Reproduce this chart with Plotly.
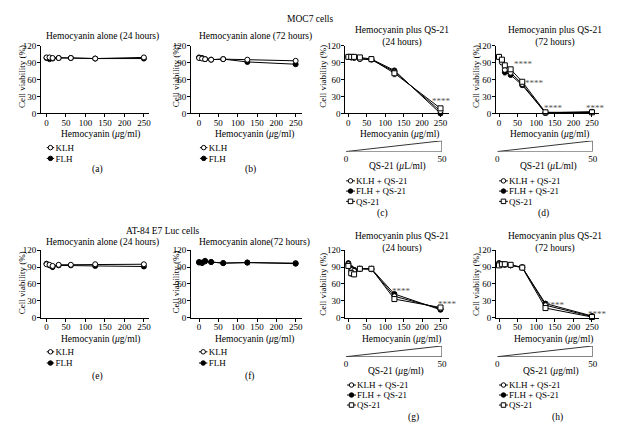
import plotly.graph_objects as go

W, H = 620, 433
FONT = "Liberation Serif"

# ---------------- data ----------------
hemo_x = [0, 7.8, 15.6, 31.25, 62.5, 125, 250]
x_ticks = [0, 50, 100, 150, 200, 250]
y_ticks = [0, 30, 60, 90, 120]
qs21_dose = [0, 50]

# MOC7 cells
a_klh = [99, 99, 98, 98, 98, 97, 99]
a_flh = [98, 96, 97, 98, 98, 97, 97]
b_klh = [98, 97, 96, 95, 96, 95, 93]
b_flh = [99, 98, 96, 95, 96, 91, 87]
c_klh = [100, 99, 98, 96, 95, 74, 4]
c_flh = [100, 99, 99, 97, 96, 76, 0]
c_qs = [100, 100, 100, 99, 96, 71, 9]
d_klh = [100, 90, 77, 72, 52, 1, 2]
d_flh = [100, 93, 73, 68, 50, 1, 3]
d_qs = [100, 95, 85, 78, 56, 2, 2]
# AT-84 E7 Luc cells
e_klh = [95, 94, 92, 94, 94, 95, 95]
e_flh = [96, 93, 90, 93, 93, 92, 91]
f_klh = [98, 97, 100, 99, 97, 98, 97]
f_flh = [99, 98, 101, 99, 97, 98, 96]
g_klh = [95, 85, 83, 87, 86, 38, 16]
g_flh = [97, 88, 85, 87, 87, 42, 14]
g_qs = [92, 79, 77, 87, 87, 33, 18]
h_klh = [96, 95, 95, 93, 90, 22, 2]
h_flh = [97, 95, 94, 93, 89, 25, 3]
h_qs = [93, 95, 95, 94, 89, 17, 1]

# error bars (SD)
err_small = [1, 1, 1, 1, 1, 1, 1]
c_qs_err = [1, 1, 1, 1, 1, 6, 2]
d_klh_err = [1, 2, 4, 3, 2, 1, 1]
d_flh_err = [1, 2, 5, 3, 2, 1, 1]
d_qs_err = [1, 2, 3, 3, 2, 1, 1]
e_flh_err = [1, 2, 4, 2, 1, 1, 2]
g_klh_err = [2, 3, 3, 1, 1, 3, 1]
g_flh_err = [1, 3, 3, 1, 1, 2, 1]
g_qs_err = [2, 5, 4, 1, 1, 4, 1]
h_err = [1, 1, 1, 1, 1, 2, 1]

# ---------------- helpers ----------------
def fx(p):
    return p / W


def fy(p):
    return 1 - p / H


STYLE = {
    "KLH": dict(symbol="circle", color="white"),
    "FLH": dict(symbol="circle", color="black"),
    "QS-21": dict(symbol="square", color="white"),
}

row1 = dict(ytop=41.5, ybot=111)
row2 = dict(ytop=251, ybot=320)

panels = [
    dict(key="a", p0=45, p250=143.5, r=(-14, 264), **row1,
         series=[("FLH", a_flh, err_small), ("KLH", a_klh, err_small)],
         legend=["KLH", "FLH"], lnames=["KLH", "FLH"]),
    dict(key="b", p0=199.3, p250=297, r=(-21, 266), **row1,
         series=[("FLH", b_flh, err_small), ("KLH", b_klh, err_small)],
         legend=["KLH", "FLH"], lnames=["KLH", "FLH"]),
    dict(key="c", p0=350.3, p250=443.5, r=(-8, 272), **row1,
         series=[("FLH", c_flh, err_small), ("KLH", c_klh, err_small), ("QS-21", c_qs, c_qs_err)],
         legend=["KLH", "FLH", "QS-21"], lnames=["KLH + QS-21", "FLH + QS-21", "QS-21"]),
    dict(key="d", p0=502.7, p250=596.7, r=(-8, 268), **row1,
         series=[("FLH", d_flh, d_flh_err), ("KLH", d_klh, d_klh_err), ("QS-21", d_qs, d_qs_err)],
         legend=["KLH", "FLH", "QS-21"], lnames=["KLH + QS-21", "FLH + QS-21", "QS-21"]),
    dict(key="e", p0=45, p250=143.5, r=(-14, 264), **row2,
         series=[("FLH", e_flh, e_flh_err), ("KLH", e_klh, err_small)],
         legend=["KLH", "FLH"], lnames=["KLH", "FLH"]),
    dict(key="f", p0=199.3, p250=297, r=(-21, 266), **row2,
         series=[("KLH", f_klh, err_small), ("FLH", f_flh, err_small)],
         legend=["KLH", "FLH"], lnames=["KLH", "FLH"]),
    dict(key="g", p0=350.3, p250=443.5, r=(-8, 272), **row2,
         series=[("FLH", g_flh, g_flh_err), ("KLH", g_klh, g_klh_err), ("QS-21", g_qs, g_qs_err)],
         legend=["KLH", "FLH", "QS-21"], lnames=["KLH + QS-21", "FLH + QS-21", "QS-21"]),
    dict(key="h", p0=502.7, p250=596.7, r=(-8, 268), **row2,
         series=[("FLH", h_flh, h_err), ("KLH", h_klh, h_err), ("QS-21", h_qs, h_err)],
         legend=["KLH", "FLH", "QS-21"], lnames=["KLH + QS-21", "FLH + QS-21", "QS-21"]),
]

# legend geometry: (marker left px, marker right px, row y px list)
legend_geom = {
    "a": (45, 53, [146, 157]),
    "b": (200, 208, [146, 157]),
    "c": (348, 357, [180, 190.5, 201]),
    "d": (502.7, 511.7, [180, 190.5, 201]),
    "e": (45, 53, [355, 366.5]),
    "f": (199, 208, [355, 366.5]),
    "g": (349, 358, [389, 399.3, 409.5]),
    "h": (502.7, 511.7, [389, 399.3, 409.5]),
}

# wedge geometry: (x0 px, x1 px, top px, base px)
wedge_geom = {
    "c": (348, 445, 139, 150),
    "d": (501, 597.5, 139, 150),
    "g": (348, 445, 349, 360),
    "h": (501, 597.5, 349, 360),
}

fig = go.Figure()
tickfont = dict(family=FONT, size=9, color="black")
layout = dict(
    width=W, height=H, margin=dict(l=0, r=0, t=0, b=0),
    paper_bgcolor="white", plot_bgcolor="white", showlegend=False,
    font=dict(family=FONT, size=9, color="black"),
)
annotations = []

ax = 0
for p in panels:
    ax += 1
    s = (p["p250"] - p["p0"]) / 250
    r0, r1 = p["r"]
    xd = [fx(p["p0"] + r0 * s), fx(p["p0"] + r1 * s)]
    yd = [fy(p["ybot"]), fy(p["ytop"])]
    xn, yn = f"xaxis{ax}", f"yaxis{ax}"
    layout[xn] = dict(domain=xd, range=[r0, r1], anchor=f"y{ax}", tickvals=x_ticks,
                      ticks="outside", ticklen=3, tickwidth=1, tickcolor="black",
                      ticklabelstandoff=-2,
                      showline=True, linecolor="black", linewidth=1, showgrid=False,
                      zeroline=False, tickfont=tickfont)
    layout[yn] = dict(domain=yd, range=[0, 120], anchor=f"x{ax}", tickvals=y_ticks,
                      ticks="outside", ticklen=3, tickwidth=1, tickcolor="black",
                      ticklabelstandoff=-1,
                      showline=True, linecolor="black", linewidth=1, showgrid=False,
                      zeroline=False, tickfont=tickfont)
    for name, vals, err in p["series"]:
        st = STYLE[name]
        fig.add_trace(go.Scatter(
            x=hemo_x, y=vals, xaxis=f"x{ax}", yaxis=f"y{ax}", mode="lines+markers",
            line=dict(color="black", width=1),
            marker=dict(symbol=st["symbol"], size=5, color=st["color"],
                        line=dict(color="black", width=1)),
            error_y=dict(type="data", array=err, color="black", thickness=0.8, width=1.5),
            cliponaxis=False, showlegend=False))
    p["ax"] = ax

# wedges for QS-21 gradient
for p in panels:
    if p["key"] not in wedge_geom:
        continue
    ax += 1
    x0, x1, top, base = wedge_geom[p["key"]]
    layout[f"xaxis{ax}"] = dict(domain=[fx(x0), fx(x1)], range=qs21_dose, anchor=f"y{ax}",
                                tickvals=qs21_dose, showline=False, showgrid=False,
                                zeroline=False, ticks="", tickfont=tickfont)
    layout[f"yaxis{ax}"] = dict(domain=[fy(base), fy(top)], range=[0, 1], anchor=f"x{ax}",
                                visible=False)
    fig.add_trace(go.Scatter(
        x=[qs21_dose[0], qs21_dose[1], qs21_dose[1], qs21_dose[0]], y=[0, 0, 1, 0],
        xaxis=f"x{ax}", yaxis=f"y{ax}", mode="lines", line=dict(color="black", width=0.8),
        cliponaxis=False, showlegend=False, hoverinfo="skip"))

# custom compact legends
for p in panels:
    ax += 1
    m0, m1, rows = legend_geom[p["key"]]
    n = len(rows)
    sp = (rows[-1] - rows[0]) / (n - 1)
    layout[f"xaxis{ax}"] = dict(domain=[fx(m0), fx(m1)], range=[0, 1], anchor=f"y{ax}",
                                visible=False)
    layout[f"yaxis{ax}"] = dict(domain=[fy(rows[-1] + sp / 2), fy(rows[0] - sp / 2)],
                                range=[n - 0.5, -0.5], anchor=f"x{ax}", side="right",
                                tickvals=list(range(n)), ticktext=p["lnames"],
                                showline=False, showgrid=False, zeroline=False, ticks="",
                                tickfont=tickfont)
    for i, name in enumerate(p["legend"]):
        st = STYLE[name]
        fig.add_trace(go.Scatter(
            x=[0, 0.5, 1], y=[i, i, i], xaxis=f"x{ax}", yaxis=f"y{ax}", mode="lines+markers",
            line=dict(color="black", width=1),
            marker=dict(symbol=st["symbol"], size=4.5, color=st["color"], opacity=[0, 1, 0],
                        line=dict(color="black", width=1)),
            cliponaxis=False, showlegend=False, hoverinfo="skip"))


def txt(x, y, t, size=9.5, angle=0, color="black"):
    annotations.append(dict(x=fx(x), y=fy(y), xref="paper", yref="paper", text=t,
                            showarrow=False, textangle=angle,
                            font=dict(family=FONT, size=size, color=color),
                            xanchor="center", yanchor="middle"))


# figure headings
txt(312, 14, "MOC7 cells")
txt(163, 231, "AT-84 E7 Luc cells")

# panel titles
txt(102, 32, "Hemocyanin alone (24 hours)")
txt(256, 32, "Hemocyanin alone (72 hours)")
txt(405, 32.5, "Hemocyanin plus QS-21<br>(24 hours)")
txt(559, 32.5, "Hemocyanin plus QS-21<br>(72 hours)")
txt(102, 243, "Hemocyanin alone (24 hours)")
txt(255, 243, "Hemocyanin alone(72 hours)")
txt(405, 243.5, "Hemocyanin plus QS-21<br>(24 hours)")
txt(559, 243.5, "Hemocyanin plus QS-21<br>(72 hours)")

# y titles
for x, y in [(21, 73), (176, 73), (325, 73), (480, 73), (21, 284), (176, 284), (325, 286), (480, 286)]:
    txt(x, y, "Cell viability (%)", size=9, angle=-90)

# x titles
for x, y in [(100, 132.5), (255, 132.5), (402, 132.5), (554, 132.5),
             (100, 342.5), (255, 342.5), (404, 342.5), (558, 342.5)]:
    txt(x, y, "Hemocyanin (<i>μ</i>g/ml)")

txt(400, 165.5, "QS-21 (<i>μ</i>L/ml)")
txt(553, 165.5, "QS-21 (<i>μ</i>L/ml)")
txt(398, 375.5, "QS-21 (<i>μ</i>g/ml)")
txt(555, 375.5, "QS-21 (<i>μ</i>g/ml)")

# panel letters
for x, y, t in [(97, 168, "(a)"), (251, 168, "(b)"), (385, 213, "(c)"), (548, 213, "(d)"),
                (97, 380, "(e)"), (251, 380, "(f)"), (416, 422, "(g)"), (562, 422, "(h)")]:
    txt(x, y, t)

# significance marks (data coordinates)
stars = {
    "c": [(253, 22)],
    "d": [(67, 87), (96, 53), (146, 10), (260, 10)],
    "g": [(144, 48), (269, 24)],
    "h": [(152, 22), (266, 6)],
}
for p in panels:
    for sx, sy in stars.get(p["key"], []):
        annotations.append(dict(x=sx, y=sy, xref=f"x{p['ax']}", yref=f"y{p['ax']}",
                                text="****", showarrow=False,
                                font=dict(family=FONT, size=9, color="#555555")))

layout["annotations"] = annotations
fig.update_layout(**layout)
fig.write_html("out.html", config={"displayModeBar": False},
               post_script="document.body.style.margin='0px';document.body.style.overflow='hidden';")
